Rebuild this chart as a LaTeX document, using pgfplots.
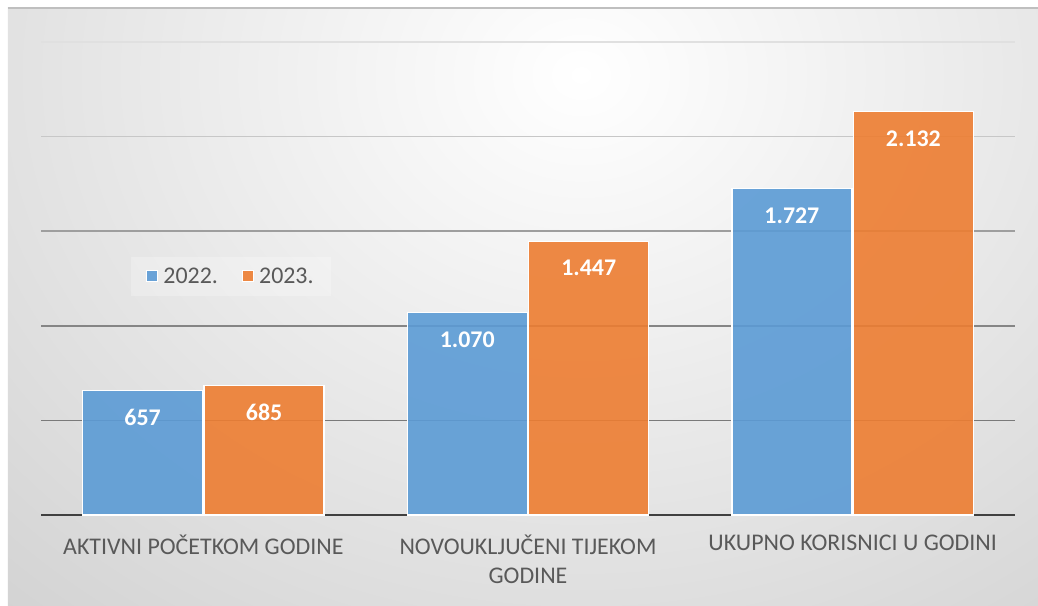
\documentclass[border=0pt]{standalone}
\usepackage{fontspec}
\setmainfont{Carlito}
\usepackage{pgfplots}
\pgfplotsset{compat=1.18}
\definecolor{barblue}{HTML}{5B9BD5}
\definecolor{barorange}{HTML}{ED7D31}
\definecolor{labgray}{HTML}{595959}
\begin{document}
\begin{tikzpicture}
% background (image px = bp; axis box from (0,0) to (974,473))
\path[use as bounding box] (-41bp,-91bp) rectangle (997bp,515bp);
\fill[white] (-41bp,-91bp) rectangle (997bp,515bp);
\begin{scope}
\clip (-33bp,-91bp) rectangle (997bp,507bp);
\fill[black!24] (-33bp,-91bp) rectangle (997bp,507bp);
\shade[inner color=white, outer color=black!24] (540bp,440bp) ellipse [x radius=1200bp, y radius=1000bp];
\draw[black!25, line width=1.2bp] (-33bp,507bp) -- (997bp,507bp);
\end{scope}
\begin{axis}[
  scale only axis,
  width=974bp, height=473bp,
  xmin=-0.5, xmax=2.5,
  ymin=0, ymax=2500,
  axis x line=bottom, axis y line=none,
  x axis line style={-, draw=black!75, line width=2.5bp},
  ytick=\empty,
  xtick={0,1,2},
  xticklabels={AKTIVNI POČETKOM GODINE, {NOVOUKLJUČENI TIJEKOM\\GODINE}, UKUPNO KORISNICI U GODINI},
  x tick label style={font=\fontsize{24}{30}\selectfont, text=labgray, align=center, yshift=-16bp},
  major tick length=0pt,
  ybar=1.5bp,
  bar width=120bp,
  clip=false,
  nodes near coords,
  /pgf/number format/.cd, fixed, precision=0, 1000 sep={.}, assume math mode=true,
  /pgfplots/.cd,
  every node near coord/.append style={font=\bfseries\fontsize{24}{28}\selectfont, text=white, anchor=center, yshift=-27bp},
  legend columns=2,
  legend style={at={(rel axis cs:0.195,0.505)}, anchor=center, draw=none, fill=white, fill opacity=0.25, text opacity=1,
    font=\fontsize{24}{28}\selectfont, text=labgray, inner xsep=15bp, inner ysep=9bp,
    /tikz/every odd column/.append style={column sep=3bp},
    /tikz/every even column/.append style={column sep=22bp}},
  legend image code/.code={\fill[#1] (0bp,-5.5bp) rectangle (11bp,5.5bp);},
]
\draw[black!12, line width=1.5bp] (axis cs:-0.5,2500) -- (axis cs:2.5,2500);
\draw[black!22, line width=1.5bp] (axis cs:-0.5,2000) -- (axis cs:2.5,2000);
\draw[black!38, line width=1.5bp] (axis cs:-0.5,1500) -- (axis cs:2.5,1500);
\draw[black!48, line width=1.5bp] (axis cs:-0.5,1000) -- (axis cs:2.5,1000);
\draw[black!52, line width=1.5bp] (axis cs:-0.5,500) -- (axis cs:2.5,500);
\addplot[fill=barblue, fill opacity=0.9, draw=white, line width=1.2bp, text opacity=1] coordinates {(0,657) (1,1070) (2,1727)};
\addplot[fill=barorange, fill opacity=0.9, draw=white, line width=1.2bp, text opacity=1] coordinates {(0,685) (1,1447) (2,2132)};
\legend{2022., 2023.}
\end{axis}
\end{tikzpicture}
\end{document}
